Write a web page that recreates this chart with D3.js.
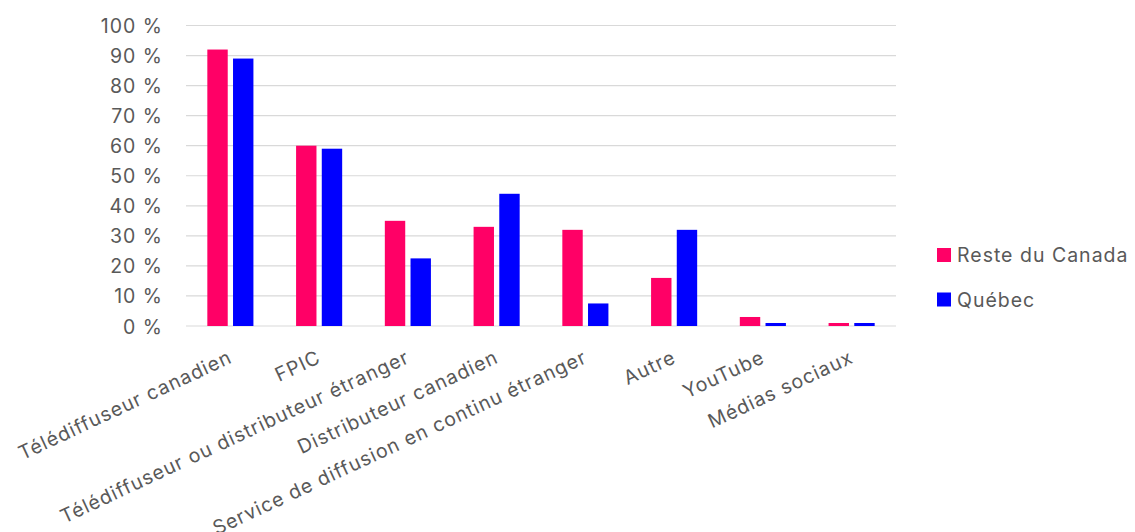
<!DOCTYPE html>
<html lang="fr">
<head>
<meta charset="utf-8">
<script src="https://cdn.jsdelivr.net/npm/d3@7/dist/d3.min.js"></script>
<style>
  html, body { margin: 0; padding: 0; background: #ffffff; }
  svg { display: block; font-family: Inter, "Open Sans", sans-serif; }
  svg text { letter-spacing: 1px; }
</style>
</head>
<body>
<svg id="chart" width="1135" height="532"></svg>
<script>
// Catégories de l'axe horizontal
const categories = [
  "Télédiffuseur canadien",
  "FPIC",
  "Télédiffuseur ou distributeur étranger",
  "Distributeur canadien",
  "Service de diffusion en continu étranger",
  "Autre",
  "YouTube",
  "Médias sociaux"
];

// Séries (en %)
const seriesNames = ["Reste du Canada", "Québec"];
const resteDuCanada = [92, 60, 35, 33, 32, 16, 3, 1];
const quebec = [89, 59, 22.5, 44, 7.5, 32, 1, 1];

// Graduations de l'axe vertical
const yTicks = [0, 10, 20, 30, 40, 50, 60, 70, 80, 90, 100];

const colors = { "Reste du Canada": "#FF0066", "Québec": "#0000FF" };

const rows = categories.map((c, i) => ({
  category: c,
  values: [
    { series: seriesNames[0], value: resteDuCanada[i] },
    { series: seriesNames[1], value: quebec[i] }
  ]
}));

const svg = d3.select("#chart");

const plot = { left: 186, right: 896, top: 25.5, bottom: 326 };
const fontSize = "19.5px";
const textColor = "#595959";

const x0 = d3.scaleBand()
  .domain(categories)
  .range([plot.left, plot.right])
  .padding(0);

const x1 = d3.scaleBand()
  .domain(seriesNames)
  .range([0, x0.bandwidth()])
  .paddingInner(0.206)
  .paddingOuter(0.83);

const y = d3.scaleLinear()
  .domain([0, 100])
  .range([plot.bottom, plot.top]);

// Quadrillage horizontal
svg.append("g")
  .selectAll("line")
  .data(yTicks)
  .join("line")
  .attr("x1", plot.left)
  .attr("x2", plot.right)
  .attr("y1", d => y(d))
  .attr("y2", d => y(d))
  .attr("stroke", "#D9D9D9")
  .attr("stroke-width", 1.2);

// Axe vertical (étiquettes seulement)
const yAxis = d3.axisLeft(y)
  .tickValues(yTicks)
  .tickSize(0)
  .tickPadding(0)
  .tickFormat(d => d + " %");

svg.append("g")
  .attr("transform", `translate(${163},0)`)
  .call(yAxis)
  .call(g => g.select(".domain").remove())
  .call(g => g.selectAll("text")
    .attr("fill", textColor)
    .attr("font-size", fontSize)
    .attr("font-family", "Inter, 'Open Sans', sans-serif")
    .attr("dy", "0.36em"));

// Barres
svg.append("g")
  .selectAll("g")
  .data(rows)
  .join("g")
  .attr("transform", d => `translate(${x0(d.category)},0)`)
  .selectAll("rect")
  .data(d => d.values)
  .join("rect")
  .attr("x", d => x1(d.series))
  .attr("width", x1.bandwidth())
  .attr("y", d => y(d.value))
  .attr("height", d => y(0) - y(d.value))
  .attr("fill", d => colors[d.series]);

// Axe horizontal : étiquettes inclinées
const xAxis = d3.axisBottom(x0).tickSize(0).tickPadding(0);
svg.append("g")
  .attr("transform", `translate(0,${plot.bottom})`)
  .call(xAxis)
  .call(g => g.select(".domain").remove())
  .call(g => g.selectAll("text")
    .attr("fill", textColor)
    .attr("font-size", fontSize)
    .attr("font-family", "Inter, 'Open Sans', sans-serif")
    .attr("text-anchor", "end")
    .attr("y", 0)
    .attr("dy", 0)
    .attr("transform", "translate(3,36) rotate(-25)"));

// Légende
const legend = svg.append("g")
  .selectAll("g")
  .data(seriesNames)
  .join("g")
  .attr("transform", (d, i) => `translate(937,${248 + i * 44.5})`);

legend.append("rect")
  .attr("width", 14)
  .attr("height", 14)
  .attr("fill", d => colors[d]);

legend.append("text")
  .attr("x", 20)
  .attr("y", 14)
  .attr("fill", textColor)
  .attr("font-size", fontSize)
  .text(d => d);
</script>
</body>
</html>
